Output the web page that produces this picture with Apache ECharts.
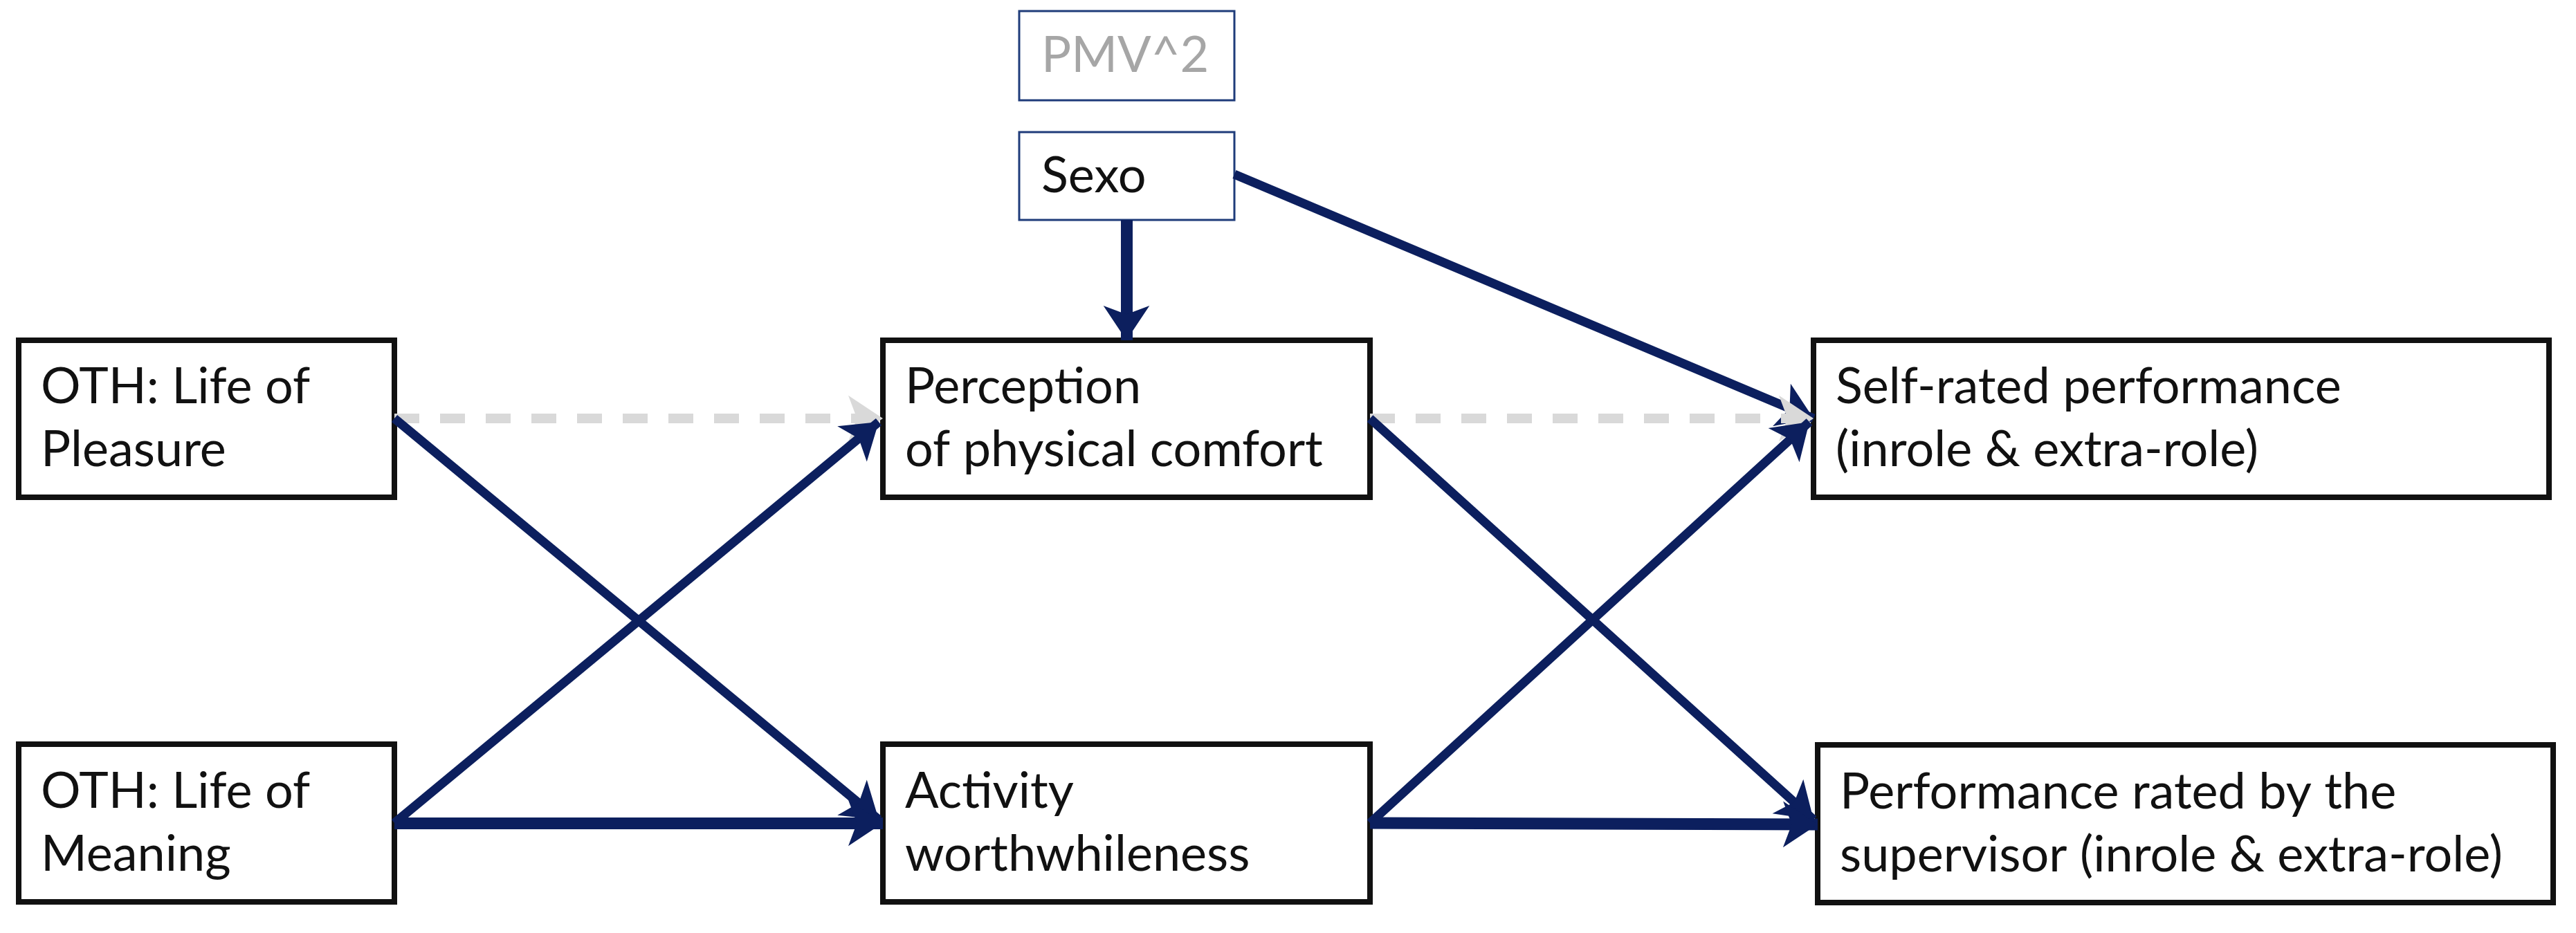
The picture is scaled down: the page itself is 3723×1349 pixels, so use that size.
<!DOCTYPE html>
<html>
<head>
<meta charset="utf-8">
<script src="https://cdn.jsdelivr.net/npm/echarts@6/dist/echarts.min.js"></script>
<style>html,body{margin:0;background:#fff}#chart{width:3723px;height:1349px}</style>
</head>
<body>
<div id="chart"></div>
<script>
// boxes: [x0, y0, x1, y1, label, kind]
const boxes = [
    [27, 492, 570, 719, "OTH: Life of\nPleasure", "main"],
    [27, 1076, 570, 1304, "OTH: Life of\nMeaning", "main"],
    [1276, 492, 1980, 719, "Perception\nof physical comfort", "main"],
    [1276, 1076, 1980, 1304, "Activity\nworthwhileness", "main"],
    [2621, 492, 3684, 719, "Self-rated performance\n(inrole & extra-role)", "main"],
    [2627, 1077, 3690, 1305, "Performance rated by the\nsupervisor (inrole & extra-role)", "main"],
    [1473, 16, 1784, 145, "PMV^2", "grey"],
    [1473, 191, 1784, 318, "Sexo", "small"]
];

// paths: [from, to, kind]
const paths = [
    [[570, 605], [1276, 605], "ns"],
    [[570, 605], [1270, 1185], "sig"],
    [[570, 1190], [1270, 610], "sig"],
    [[570, 1190], [1276, 1190], "thick"],
    [[1628, 318], [1628, 492], "thick"],
    [[1784, 252], [2621, 605], "sig"],
    [[1980, 605], [2621, 605], "ns"],
    [[1980, 605], [2621, 1185], "sig"],
    [[1980, 1190], [2615, 610], "sig"],
    [[1980, 1190], [2627, 1192], "thick"]
];

// coefficients: [x, y, text, kind]
const coefs = [
    [949, 540, "ns", "ns"],
    [782, 667, "0.31", "n"],
    [645, 1014, "0.33", "n"],
    [900, 1252, "0.48", "n"],
    [1721, 379, "0.31", "n"],
    [1922, 237, "-0.37", "n"],
    [2294, 540, "ns", "ns"],
    [2170, 667, "0.24", "n"],
    [2032, 1022, "0.31", "n"],
    [2313, 1252, "0.30", "n"]
];

const navy = "#0c1f5e";
const font = "Lato";

const chart = echarts.init(document.getElementById("chart"));
chart.setOption({
    animation: false,
    grid: { left: 0, right: 0, top: 0, bottom: 0 },
    xAxis: { type: "value", min: 0, max: 3723, show: false },
    yAxis: { type: "value", min: 0, max: 1349, inverse: true, show: false },
    series: [
        {
            type: "custom",
            data: boxes,
            renderItem: (params, api) => {
                const b = boxes[params.dataIndex];
                const p0 = api.coord([b[0], b[1]]);
                const p1 = api.coord([b[2], b[3]]);
                const main = b[5] === "main";
                return {
                    type: "group",
                    children: [
                        {
                            type: "rect",
                            shape: { x: p0[0], y: p0[1], width: p1[0] - p0[0], height: p1[1] - p0[1] },
                            style: { fill: "#fff", stroke: main ? "#111" : "#1f3c7a", lineWidth: main ? 8 : 3 }
                        },
                        {
                            type: "text",
                            style: {
                                text: b[4],
                                x: p0[0] + 32,
                                y: (p0[1] + p1[1]) / 2,
                                fill: b[5] === "grey" ? "#a6a6a6" : "#111",
                                fontSize: 72,
                                fontFamily: font,
                                lineHeight: 91,
                                align: "left",
                                verticalAlign: "middle"
                            }
                        }
                    ]
                };
            },
            z: 1
        },
        {
            type: "lines",
            coordinateSystem: "cartesian2d",
            symbol: ["none", "arrow"],
            symbolSize: 50,
            data: paths.map(p => ({
                coords: [p[0], p[1]],
                lineStyle: p[2] === "ns"
                    ? { color: "#d9d9d9", width: 14, type: [36, 30], opacity: 1 }
                    : { color: navy, width: p[2] === "thick" ? 17 : 13, type: "solid", opacity: 1 }
            })),
            z: 3
        },
        {
            type: "scatter",
            symbolSize: 0,
            itemStyle: { opacity: 0 },
            labelLayout: { hideOverlap: false },
            data: coefs.map(c => ({
                value: [c[0], c[1]],
                name: c[2],
                label: c[3] === "ns"
                    ? { color: "#c8c8c8", fontSize: 66, fontStyle: "italic", fontFamily: font }
                    : { color: "#111", fontSize: 72, fontFamily: font }
            })),
            label: {
                show: true,
                position: "inside",
                formatter: p => p.name
            },
            z: 4
        }
    ]
});
</script>
</body>
</html>
